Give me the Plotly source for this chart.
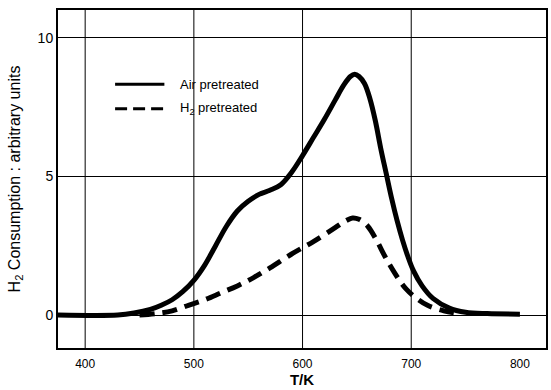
import plotly.graph_objects as go

# Air pretreated (solid)
air_T = [375, 430, 445, 460, 470, 480, 490, 500, 510, 520, 530, 540, 550, 560, 570, 580,
         590, 600, 610, 620, 630, 638, 644, 648, 652, 657, 662, 667, 672, 677, 682,
         687, 692, 697, 702, 710, 720, 735, 750, 770, 800]
air_H = [0, 0, 0.07, 0.2, 0.35, 0.55, 0.85, 1.25, 1.8, 2.5, 3.2, 3.75, 4.1, 4.35, 4.5, 4.7,
         5.15, 5.75, 6.4, 7.05, 7.75, 8.3, 8.6, 8.68, 8.6, 8.35, 7.8, 7.0, 6.0, 5.1, 4.2,
         3.4, 2.7, 2.1, 1.6, 1.05, 0.6, 0.25, 0.1, 0.05, 0.03]

# H2 pretreated (dashed)
h2_T = [450, 465, 480, 495, 510, 525, 540, 555, 570, 590, 610, 630, 640, 646, 652, 660,
        668, 676, 685, 695, 705, 715, 730, 745]
h2_H = [0, 0.05, 0.15, 0.35, 0.55, 0.8, 1.05, 1.35, 1.7, 2.2, 2.65, 3.15, 3.4, 3.5, 3.45, 3.2,
        2.7, 2.1, 1.5, 0.95, 0.6, 0.35, 0.15, 0.05]

x_ticks = [400, 500, 600, 700, 800]
x_grid = [400, 500, 600, 700]
y_ticks = [0, 5, 10]

FONT = "Liberation Sans, Arial, sans-serif"

fig = go.Figure()
fig.add_trace(go.Scatter(x=h2_T, y=h2_H, mode="lines", name="H<sub>2</sub> pretreated",
                         line=dict(color="black", width=5, dash="15px,8px", shape="spline", smoothing=1.0),
                         showlegend=False))
fig.add_trace(go.Scatter(x=air_T, y=air_H, mode="lines", name="Air pretreated",
                         line=dict(color="black", width=5, shape="spline", smoothing=1.0),
                         showlegend=False))

for g in x_grid:
    fig.add_shape(type="line", xref="x", yref="paper", x0=g, x1=g, y0=0, y1=1,
                  line=dict(color="black", width=1), layer="below")

# legend drawn manually
legend_items = [("Air pretreated", "solid", 0.78), ("H<sub>2</sub> pretreated", "12px,6px", 0.708)]
for label, dash, yy in legend_items:
    fig.add_shape(type="line", xref="paper", yref="paper", x0=0.117, x1=0.218, y0=yy, y1=yy,
                  line=dict(color="black", width=3, dash=dash))
    fig.add_annotation(xref="paper", yref="paper", x=0.245, y=yy, text=label, showarrow=False,
                       xanchor="left", yanchor="middle", font=dict(size=13, color="black", family=FONT))

fig.update_layout(
    width=551, height=390,
    margin=dict(l=58, r=5, t=10, b=42, autoexpand=False),
    paper_bgcolor="white", plot_bgcolor="white",
    font=dict(family=FONT, color="black", size=12),
)
fig.update_xaxes(range=[375, 824], tickvals=x_ticks, ticktext=[str(t) for t in x_ticks],
                 showgrid=False, zeroline=False, showline=True, linecolor="black", linewidth=2,
                 mirror=True, ticks="", tickfont=dict(size=12, family=FONT), ticklabelstandoff=4,
                 automargin=False,
                 title=dict(text="<b>T/K</b>", font=dict(size=15, family=FONT), standoff=4))
fig.update_yaxes(range=[-1.19, 11.0], tickvals=y_ticks, showgrid=True, gridcolor="black", gridwidth=1,
                 zeroline=False, showline=True, linecolor="black", linewidth=2, mirror=True,
                 ticks="", tickfont=dict(size=14, family=FONT), automargin=False,
                 title=dict(text="H<sub>2</sub> Consumption : arbitrary units",
                            font=dict(size=16, family=FONT), standoff=13))

fig.write_html("out.html")
